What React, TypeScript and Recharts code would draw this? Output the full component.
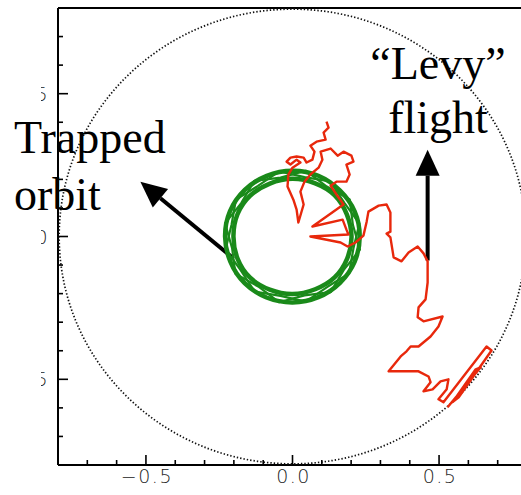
import React from 'react';
import { ScatterChart, Scatter, XAxis, YAxis, ReferenceLine, Curve } from 'recharts';

// dotted boundary circle, r = 0.8
const boundary = [
  { x: 0.8, y: 0 }, { x: 0.788, y: 0.139 }, { x: 0.752, y: 0.274 }, { x: 0.693, y: 0.4 },
  { x: 0.613, y: 0.514 }, { x: 0.514, y: 0.613 }, { x: 0.4, y: 0.693 }, { x: 0.274, y: 0.752 },
  { x: 0.139, y: 0.788 }, { x: 0, y: 0.8 }, { x: -0.139, y: 0.788 }, { x: -0.274, y: 0.752 },
  { x: -0.4, y: 0.693 }, { x: -0.514, y: 0.613 }, { x: -0.613, y: 0.514 }, { x: -0.693, y: 0.4 },
  { x: -0.752, y: 0.274 }, { x: -0.788, y: 0.139 }, { x: -0.8, y: 0 }, { x: -0.788, y: -0.139 },
  { x: -0.752, y: -0.274 }, { x: -0.693, y: -0.4 }, { x: -0.613, y: -0.514 }, { x: -0.514, y: -0.613 },
  { x: -0.4, y: -0.693 }, { x: -0.274, y: -0.752 }, { x: -0.139, y: -0.788 }, { x: 0, y: -0.8 },
  { x: 0.139, y: -0.788 }, { x: 0.274, y: -0.752 }, { x: 0.4, y: -0.693 }, { x: 0.514, y: -0.613 },
  { x: 0.613, y: -0.514 }, { x: 0.693, y: -0.4 }, { x: 0.752, y: -0.274 }, { x: 0.788, y: -0.139 },
];

// trapped orbit: several laps around the centre
const orbitLapA = [
  { x: 0.207, y: 0 }, { x: 0.189, y: 0.079 }, { x: 0.149, y: 0.149 }, { x: 0.079, y: 0.19 },
  { x: 0, y: 0.208 }, { x: -0.079, y: 0.189 }, { x: -0.148, y: 0.148 }, { x: -0.193, y: 0.08 },
  { x: -0.206, y: 0 }, { x: -0.192, y: -0.08 }, { x: -0.149, y: -0.149 }, { x: -0.079, y: -0.19 },
  { x: 0, y: -0.208 }, { x: 0.079, y: -0.188 }, { x: 0.148, y: -0.148 }, { x: 0.191, y: -0.079 },
];
const orbitLapB = [
  { x: 0.235, y: 0 }, { x: 0.218, y: 0.091 }, { x: 0.165, y: 0.165 }, { x: 0.091, y: 0.219 },
  { x: 0, y: 0.236 }, { x: -0.09, y: 0.218 }, { x: -0.167, y: 0.167 }, { x: -0.219, y: 0.091 },
  { x: -0.236, y: 0 }, { x: -0.217, y: -0.09 }, { x: -0.168, y: -0.168 }, { x: -0.091, y: -0.219 },
  { x: 0, y: -0.237 }, { x: 0.091, y: -0.218 }, { x: 0.166, y: -0.166 }, { x: 0.218, y: -0.09 },
];
const orbitLapC = [
  { x: 0.206, y: 0.041 }, { x: 0.195, y: 0.13 }, { x: 0.117, y: 0.175 }, { x: 0.046, y: 0.23 },
  { x: -0.041, y: 0.206 }, { x: -0.13, y: 0.195 }, { x: -0.175, y: 0.117 }, { x: -0.23, y: 0.046 },
  { x: -0.206, y: -0.041 }, { x: -0.195, y: -0.13 }, { x: -0.117, y: -0.175 }, { x: -0.046, y: -0.23 },
  { x: 0.041, y: -0.206 }, { x: 0.13, y: -0.195 }, { x: 0.175, y: -0.117 }, { x: 0.23, y: -0.046 },
];
const orbitLapD = [
  { x: 0.228, y: 0.045 }, { x: 0.177, y: 0.118 }, { x: 0.129, y: 0.193 }, { x: 0.041, y: 0.208 },
  { x: -0.045, y: 0.228 }, { x: -0.118, y: 0.177 }, { x: -0.193, y: 0.129 }, { x: -0.208, y: 0.041 },
  { x: -0.228, y: -0.045 }, { x: -0.177, y: -0.118 }, { x: -0.129, y: -0.193 }, { x: -0.041, y: -0.208 },
  { x: 0.045, y: -0.228 }, { x: 0.118, y: -0.177 }, { x: 0.193, y: -0.129 }, { x: 0.208, y: -0.041 },
];

// "Levy" flight trajectory
const levyPath = [
  { x: 0.116, y: 0.402 }, { x: 0.123, y: 0.381 }, { x: 0.106, y: 0.364 }, { x: 0.113, y: 0.339 },
  { x: 0.082, y: 0.332 }, { x: 0.061, y: 0.318 }, { x: 0.075, y: 0.297 }, { x: 0.068, y: 0.269 },
  { x: 0.048, y: 0.259 }, { x: 0.038, y: 0.276 }, { x: 0.014, y: 0.28 }, { x: -0.007, y: 0.276 },
  { x: -0.02, y: 0.262 }, { x: -0.007, y: 0.252 }, { x: 0.014, y: 0.269 }, { x: 0.027, y: 0.259 },
  { x: 0.0, y: 0.241 }, { x: -0.014, y: 0.217 }, { x: -0.017, y: 0.175 }, { x: 0.003, y: 0.129 },
  { x: 0.014, y: 0.094 }, { x: 0.02, y: 0.049 }, { x: 0.038, y: 0.112 }, { x: 0.027, y: 0.157 },
  { x: 0.041, y: 0.192 }, { x: 0.061, y: 0.217 }, { x: 0.089, y: 0.241 }, { x: 0.102, y: 0.269 },
  { x: 0.096, y: 0.297 }, { x: 0.13, y: 0.308 }, { x: 0.154, y: 0.283 }, { x: 0.174, y: 0.297 },
  { x: 0.201, y: 0.283 }, { x: 0.208, y: 0.262 }, { x: 0.184, y: 0.252 }, { x: 0.195, y: 0.217 },
  { x: 0.184, y: 0.192 }, { x: 0.15, y: 0.192 }, { x: 0.13, y: 0.178 }, { x: 0.15, y: 0.147 },
  { x: 0.174, y: 0.112 }, { x: 0.068, y: 0.035 }, { x: 0.171, y: 0.059 }, { x: 0.184, y: 0.024 },
  { x: 0.191, y: 0.007 }, { x: 0.061, y: 0.0 }, { x: 0.164, y: -0.021 }, { x: 0.188, y: -0.035 },
  { x: 0.215, y: -0.021 }, { x: 0.242, y: 0.003 }, { x: 0.253, y: 0.052 }, { x: 0.259, y: 0.087 },
  { x: 0.294, y: 0.108 }, { x: 0.321, y: 0.112 }, { x: 0.334, y: 0.084 }, { x: 0.334, y: 0.017 },
  { x: 0.321, y: 0.01 }, { x: 0.334, y: -0.003 }, { x: 0.345, y: -0.073 }, { x: 0.372, y: -0.087 },
  { x: 0.396, y: -0.056 }, { x: 0.427, y: -0.035 }, { x: 0.447, y: -0.059 }, { x: 0.461, y: -0.087 },
  { x: 0.461, y: -0.161 }, { x: 0.454, y: -0.22 }, { x: 0.43, y: -0.248 }, { x: 0.427, y: -0.283 },
  { x: 0.447, y: -0.297 }, { x: 0.512, y: -0.28 }, { x: 0.498, y: -0.315 }, { x: 0.471, y: -0.35 },
  { x: 0.43, y: -0.385 }, { x: 0.403, y: -0.385 }, { x: 0.389, y: -0.402 }, { x: 0.369, y: -0.42 },
  { x: 0.328, y: -0.472 }, { x: 0.358, y: -0.472 }, { x: 0.43, y: -0.472 }, { x: 0.464, y: -0.49 },
  { x: 0.471, y: -0.51 }, { x: 0.447, y: -0.542 }, { x: 0.478, y: -0.535 }, { x: 0.505, y: -0.507 },
  { x: 0.532, y: -0.5 }, { x: 0.526, y: -0.535 }, { x: 0.498, y: -0.57 }, { x: 0.515, y: -0.58 },
  { x: 0.662, y: -0.385 }, { x: 0.679, y: -0.399 }, { x: 0.567, y: -0.563 }, { x: 0.546, y: -0.58 },
  { x: 0.625, y: -0.465 }, { x: 0.642, y: -0.458 }, { x: 0.529, y: -0.598 },
];

// annotation arrows: from tail to tip
const trappedArrow = [{ x: -0.201, y: -0.077 }, { x: -0.519, y: 0.192 }];
const levyArrow = [{ x: 0.461, y: -0.084 }, { x: 0.461, y: 0.304 }];

const axisTicks = [-0.7, -0.6, -0.5, -0.4, -0.3, -0.2, -0.1, 0, 0.1, 0.2, 0.3, 0.4, 0.5, 0.6, 0.7];
const labelTicks = [-0.5, 0, 0.5];
const AXIS_MIN = -0.8;
const AXIS_MAX = 0.8;

const GREEN = '#1a8a1a';
const RED = '#e8280c';

const isMajor = (v: number) => labelTicks.some(t => Math.abs(t - v) < 1e-6);
const fmt = (v: number) => (v < -1e-6 ? '\u2212' : '') + Math.abs(v).toFixed(1);

const tickFont = { fontFamily: 'DejaVu Sans', fontSize: 19, fontWeight: 200, letterSpacing: 1.5 };

const BottomTick = ({ x, y, payload }: any) => {
  const major = isMajor(payload.value);
  return (
    <g>
      <line x1={x} x2={x} y1={y} y2={y - (major ? 10 : 5)} stroke="#000" strokeWidth={1.6} />
      {major && (
        <text x={x + 1} y={y + 18} textAnchor="middle" fill="#222" {...tickFont}>{fmt(payload.value)}</text>
      )}
    </g>
  );
};

const TopTick = ({ x, y, payload }: any) => {
  const major = isMajor(payload.value);
  return <line x1={x} x2={x} y1={y} y2={y + (major ? 10 : 5)} stroke="#000" strokeWidth={1.6} />;
};

const LeftTick = ({ x, y, payload }: any) => {
  const major = isMajor(payload.value);
  return (
    <g>
      <line x1={x} x2={x + (major ? 10 : 5)} y1={y} y2={y} stroke="#000" strokeWidth={1.6} />
      {major && (
        <text x={x - 9} y={y + 7} textAnchor="end" fill="#222" {...tickFont}>{fmt(payload.value)}</text>
      )}
    </g>
  );
};

const Arrow = ({ x1, y1, x2, y2 }: any) => {
  const dx = x2 - x1;
  const dy = y2 - y1;
  const len = Math.sqrt(dx * dx + dy * dy) || 1;
  const ux = dx / len;
  const uy = dy / len;
  const headLen = 26;
  const headHalf = 12;
  const bx = x2 - ux * headLen;
  const by = y2 - uy * headLen;
  return (
    <g>
      <line x1={x1} y1={y1} x2={bx} y2={by} stroke="#000" strokeWidth={4} />
      <polygon
        points={`${x2},${y2} ${bx - uy * headHalf},${by + ux * headHalf} ${bx + uy * headHalf},${by - ux * headHalf}`}
        fill="#000"
      />
    </g>
  );
};

const FrameLine = ({ x1, y1, x2, y2 }: any) => (
  <line x1={x1} y1={y1} x2={x2} y2={y2} stroke="#000" strokeWidth={2} />
);

// closed loop through the scatter points
const closedLoop = (color: string, width: number, curve: string, dash?: string) => (p: any) => (
  <Curve
    points={p.points}
    type={curve as any}
    fill="none"
    stroke={color}
    strokeWidth={width}
    strokeDasharray={dash}
    strokeLinejoin="round"
  />
);

const noDot = () => <g />;

const labelStyle: React.CSSProperties = {
  position: 'absolute',
  fontFamily: '"Liberation Serif", "Times New Roman", serif',
  fontSize: 46,
  color: '#000',
  whiteSpace: 'nowrap',
};

const axisLineStyle = { stroke: '#000', strokeWidth: 2 };

export default function App() {
  return (
    <div style={{ position: 'fixed', left: 0, top: 0, width: 521, height: 495, overflow: 'hidden', background: '#fff' }}>
      <div style={{ position: 'absolute', left: 41, top: 0, width: 480, height: 495, overflow: 'hidden' }}>
        <div style={{ position: 'absolute', left: -41, top: 0 }}>
          <ScatterChart width={537} height={495} margin={{ top: 8, right: 10, bottom: 0, left: 0 }}>
            <XAxis
              type="number"
              dataKey="x"
              domain={[AXIS_MIN, AXIS_MAX]}
              ticks={axisTicks}
              interval={0}
              allowDataOverflow
              height={30}
              tickSize={0}
              tickMargin={0}
              tickLine={false}
              axisLine={axisLineStyle}
              tick={<BottomTick />}
            />
            <XAxis
              xAxisId="top"
              orientation="top"
              type="number"
              dataKey="x"
              domain={[AXIS_MIN, AXIS_MAX]}
              ticks={axisTicks}
              interval={0}
              allowDataOverflow
              height={0}
              tickSize={0}
              tickMargin={0}
              tickLine={false}
              axisLine={axisLineStyle}
              tick={<TopTick />}
            />
            <YAxis
              type="number"
              dataKey="y"
              domain={[AXIS_MIN, AXIS_MAX]}
              ticks={axisTicks}
              interval={0}
              allowDataOverflow
              width={58}
              tickSize={0}
              tickMargin={0}
              tickLine={false}
              axisLine={axisLineStyle}
              tick={<LeftTick />}
            />
            {/* plot frame */}
            <ReferenceLine x={AXIS_MIN} ifOverflow="visible" shape={FrameLine} />
            <ReferenceLine y={AXIS_MIN} ifOverflow="visible" shape={FrameLine} />
            <ReferenceLine y={AXIS_MAX} ifOverflow="visible" shape={FrameLine} />
            <Scatter
              data={boundary}
              line={closedLoop('#111', 1.7, 'basisClosed', '1.4 2')}
              lineType="joint"
              shape={noDot}
              isAnimationActive={false}
            />
            <Scatter data={orbitLapA} line={closedLoop(GREEN, 4.5, 'basisClosed')} lineType="joint" shape={noDot} isAnimationActive={false} />
            <Scatter data={orbitLapB} line={closedLoop(GREEN, 4.5, 'basisClosed')} lineType="joint" shape={noDot} isAnimationActive={false} />
            <Scatter data={orbitLapC} line={closedLoop(GREEN, 2.2, 'linearClosed')} lineType="joint" shape={noDot} isAnimationActive={false} />
            <Scatter data={orbitLapD} line={closedLoop(GREEN, 2.2, 'linearClosed')} lineType="joint" shape={noDot} isAnimationActive={false} />
            <Scatter
              data={levyPath}
              line={{ stroke: RED, strokeWidth: 2.4, strokeLinejoin: 'round' }}
              lineType="joint"
              shape={noDot}
              isAnimationActive={false}
            />
            <ReferenceLine segment={trappedArrow} shape={(p: any) => <Arrow {...p} />} />
            <ReferenceLine segment={levyArrow} shape={(p: any) => <Arrow {...p} />} />
          </ScatterChart>
        </div>
      </div>
      <div style={{ ...labelStyle, left: 14, top: 109, lineHeight: '57px' }}>
        Trapped<br />orbit
      </div>
      <div style={{ ...labelStyle, left: 338, top: 37, width: 200, textAlign: 'center', lineHeight: '54px' }}>
        “Levy”<br />flight
      </div>
    </div>
  );
}
